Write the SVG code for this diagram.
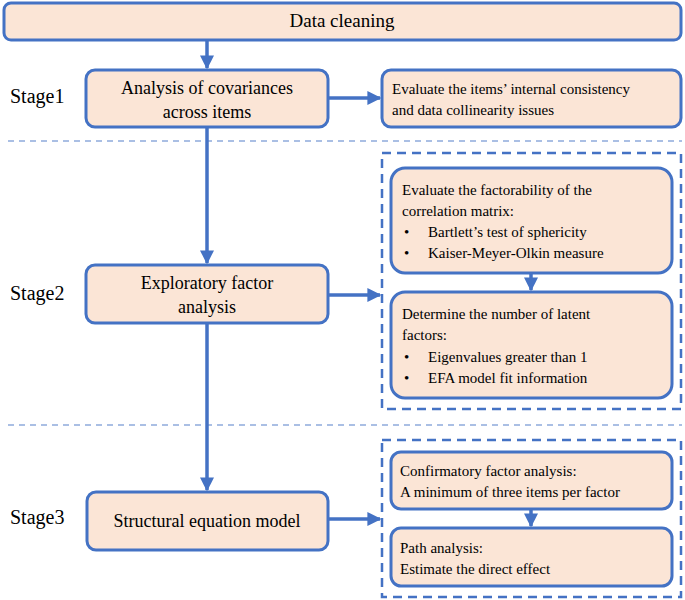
<svg xmlns="http://www.w3.org/2000/svg" width="685" height="600" viewBox="0 0 685 600">
<defs>
<marker id="ah" viewBox="0 0 10 10" refX="9" refY="5" markerWidth="4" markerHeight="4" orient="auto" markerUnits="strokeWidth"><path d="M0,0 L10,5 L0,10 z" fill="#4472C4"/></marker>
<style>
.box{fill:#FBE5D6;stroke:#4472C4;stroke-width:3}
.t{font-family:"Liberation Serif",serif;fill:#000}
.c{stroke:#4472C4;stroke-width:3.5;fill:none}
.sep{stroke:#8FAADC;stroke-width:1.5;stroke-dasharray:6,5}
.dbox{fill:none;stroke:#4472C4;stroke-width:2.5;stroke-dasharray:9,6}
</style>
</defs>
<line class="sep" x1="8" y1="141" x2="682" y2="141"/>
<line class="sep" x1="8" y1="425" x2="682" y2="425"/>
<rect class="dbox" x="382" y="153" width="299" height="256"/>
<rect class="dbox" x="382" y="440" width="299" height="157"/>
<g class="t" font-size="20">
<text x="10" y="103">Stage1</text>
<text x="10" y="300">Stage2</text>
<text x="10" y="524">Stage3</text>
</g>
<g id="n0"><rect class="box" x="4" y="3" width="677" height="37" rx="7"/><text class="t" x="342" y="27" font-size="19" text-anchor="middle">Data cleaning</text></g>
<g id="n1"><rect class="box" x="86" y="70" width="242" height="57" rx="9"/><text class="t" font-size="18" text-anchor="middle"><tspan x="207" y="94">Analysis of covariances</tspan><tspan x="207" y="118">across items</tspan></text></g>
<g id="n2"><rect class="box" x="382" y="70" width="299" height="57" rx="9"/><text class="t" font-size="15"><tspan x="392" y="94">Evaluate the items’ internal consistency</tspan><tspan x="392" y="115">and data collinearity issues</tspan></text></g>
<g id="n3"><rect class="box" x="86" y="265" width="242" height="58" rx="9"/><text class="t" font-size="18" text-anchor="middle"><tspan x="207" y="289">Exploratory factor</tspan><tspan x="207" y="313">analysis</tspan></text></g>
<g id="n4"><rect class="box" x="391" y="168" width="281" height="105" rx="14"/><text class="t" font-size="15"><tspan x="402" y="195">Evaluate the factorability of the</tspan><tspan x="402" y="216">correlation matrix:</tspan><tspan x="404" y="237">•</tspan><tspan x="428" y="237">Bartlett’s test of sphericity</tspan><tspan x="404" y="258">•</tspan><tspan x="428" y="258">Kaiser-Meyer-Olkin measure</tspan></text></g>
<g id="n5"><rect class="box" x="391" y="292" width="281" height="106" rx="14"/><text class="t" font-size="15"><tspan x="402" y="319">Determine the number of latent</tspan><tspan x="402" y="340">factors:</tspan><tspan x="404" y="362">•</tspan><tspan x="428" y="362">Eigenvalues greater than 1</tspan><tspan x="404" y="383">•</tspan><tspan x="428" y="383">EFA model fit information</tspan></text></g>
<g id="n6"><rect class="box" x="87" y="492" width="241" height="58" rx="9"/><text class="t" x="207" y="527" font-size="18" text-anchor="middle">Structural equation model</text></g>
<g id="n7"><rect class="box" x="391" y="452" width="281" height="57" rx="10"/><text class="t" font-size="15"><tspan x="400" y="476">Confirmatory factor analysis:</tspan><tspan x="400" y="497">A minimum of three items per factor</tspan></text></g>
<g id="n8"><rect class="box" x="391" y="528" width="281" height="58" rx="10"/><text class="t" font-size="15"><tspan x="400" y="553">Path analysis:</tspan><tspan x="400" y="574">Estimate the direct effect</tspan></text></g>
<g id="connectors">
<line class="c" x1="207" y1="40" x2="207" y2="68" marker-end="url(#ah)"/>
<line class="c" x1="207" y1="127" x2="207" y2="263" marker-end="url(#ah)"/>
<line class="c" x1="207" y1="323" x2="207" y2="490" marker-end="url(#ah)"/>
<line class="c" x1="328" y1="98" x2="380" y2="98" marker-end="url(#ah)"/>
<line class="c" x1="328" y1="295" x2="380" y2="295" marker-end="url(#ah)"/>
<line class="c" x1="328" y1="519" x2="380" y2="519" marker-end="url(#ah)"/>
<line class="c" x1="531" y1="273" x2="531" y2="290" marker-end="url(#ah)"/>
<line class="c" x1="531" y1="509" x2="531" y2="526" marker-end="url(#ah)"/>
</g>
</svg>
